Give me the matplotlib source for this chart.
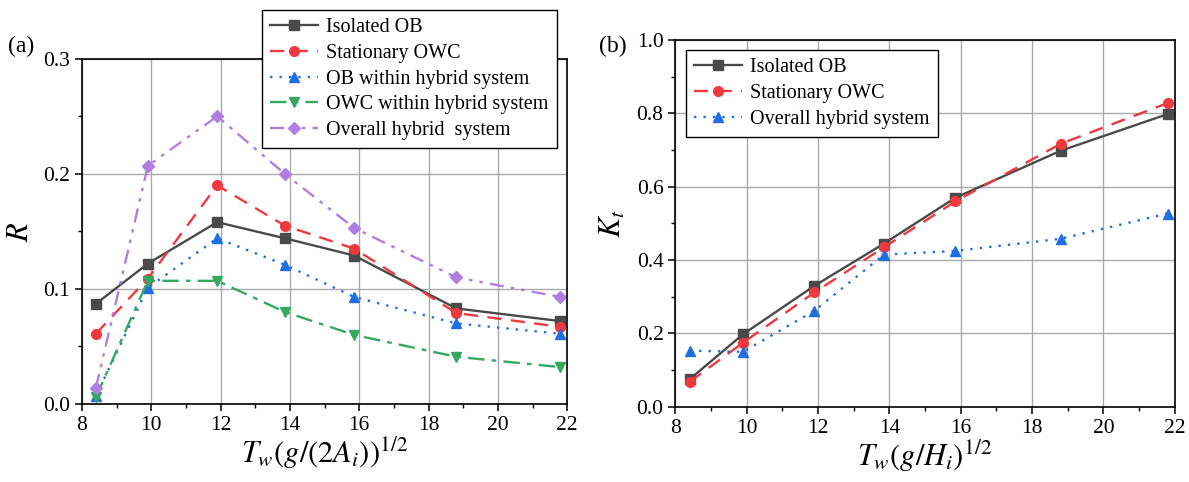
import matplotlib
matplotlib.use("Agg")
import matplotlib.pyplot as plt

plt.rcParams['font.family'] = ['Liberation Serif', 'DejaVu Serif']
plt.rcParams['mathtext.fontset'] = 'stix'

# data
x = [8.4, 9.9, 11.9, 13.85, 15.85, 18.8, 21.8]

# panel (a): reflection coefficient R
r_isolated_ob = [0.087, 0.122, 0.158, 0.144, 0.129, 0.083, 0.072]
r_stationary_owc = [0.061, 0.109, 0.190, 0.155, 0.135, 0.079, 0.067]
r_ob_hybrid = [0.007, 0.101, 0.144, 0.121, 0.093, 0.070, 0.061]
r_owc_hybrid = [0.006, 0.107, 0.107, 0.080, 0.060, 0.041, 0.032]
r_overall = [0.014, 0.207, 0.250, 0.200, 0.153, 0.110, 0.093]

# panel (b): transmission coefficient Kt
kt_isolated_ob = [0.075, 0.198, 0.330, 0.445, 0.570, 0.698, 0.798]
kt_stationary_owc = [0.068, 0.175, 0.312, 0.435, 0.560, 0.717, 0.828]
kt_overall = [0.153, 0.150, 0.262, 0.415, 0.425, 0.458, 0.527]

gray = '#4a4a4a'
red = '#f0393e'
blue = '#1f6fe0'
green = '#35a862'
purple = '#b07ee0'

lw = 1.7
ms = 7

fig = plt.figure(figsize=(11.89, 4.82), dpi=100)
ax1 = fig.add_axes([0.069, 0.162, 0.408, 0.716])
ax2 = fig.add_axes([0.568, 0.156, 0.420, 0.761])


def style_axis(ax):
    ax.set_xlim(8, 22)
    ax.set_xticks(range(8, 23, 2))
    ax.set_xticks(range(9, 22, 2), minor=True)
    ax.grid(True, which='major', color='#aaaaaa', lw=1.0)
    ax.set_axisbelow(True)
    ax.tick_params(which='major', direction='out', length=5, width=1.1, labelsize=15.5)
    ax.tick_params(which='minor', direction='out', length=3, width=1.0)
    for s in ax.spines.values():
        s.set_linewidth(1.2)


legend_kw = dict(fontsize=14.5, frameon=True, fancybox=False, edgecolor='black', framealpha=1,
                 handlelength=2.4, borderpad=0.4, labelspacing=0.33, handletextpad=0.4,
                 borderaxespad=0)

# panel (a)
ax1.plot(x, r_isolated_ob, color=gray, ls='-', lw=lw, marker='s', ms=ms, label='Isolated OB')
ax1.plot(x, r_stationary_owc, color=red, ls=(0, (6, 4)), lw=lw, marker='o', ms=ms, label='Stationary OWC')
ax1.plot(x, r_ob_hybrid, color=blue, ls=(0, (1, 3)), lw=lw, marker='^', ms=ms, label='OB within hybrid system')
ax1.plot(x, r_owc_hybrid, color=green, ls=(0, (7, 3, 2, 3)), lw=lw, marker='v', ms=ms, label='OWC within hybrid system')
ax1.plot(x, r_overall, color=purple, ls=(0, (6, 3, 1.5, 3, 1.5, 3)), lw=lw, marker='D', ms=ms - 1, label='Overall hybrid  system')
style_axis(ax1)
ax1.set_ylim(0, 0.3)
ax1.set_yticks([0.0, 0.1, 0.2, 0.3])
ax1.set_yticks([0.05, 0.15, 0.25], minor=True)
ax1.set_yticklabels(['0.0', '0.1', '0.2', '0.3'])
ax1.set_ylabel('$R$', fontsize=22, labelpad=6)
ax1.set_xlabel(r'$T_w(g/(2A_i))^{1/2}$', fontsize=22, labelpad=0)
leg1 = ax1.legend(loc='upper left', bbox_to_anchor=(0.2203, 0.9793), bbox_transform=fig.transFigure, **legend_kw)
leg1.get_frame().set_linewidth(1.0)
fig.text(0.007, 0.893, '(a)', fontsize=17)

# panel (b)
ax2.plot(x, kt_isolated_ob, color=gray, ls='-', lw=lw, marker='s', ms=ms, label='Isolated OB')
ax2.plot(x, kt_stationary_owc, color=red, ls=(0, (6, 4)), lw=lw, marker='o', ms=ms, label='Stationary OWC')
ax2.plot(x, kt_overall, color=blue, ls=(0, (1, 3)), lw=lw, marker='^', ms=ms, label='Overall hybrid system')
style_axis(ax2)
ax2.set_ylim(0, 1.0)
ax2.set_yticks([0.0, 0.2, 0.4, 0.6, 0.8, 1.0])
ax2.set_yticks([0.1, 0.3, 0.5, 0.7, 0.9], minor=True)
ax2.set_yticklabels(['0.0', '0.2', '0.4', '0.6', '0.8', '1.0'])
ax2.set_ylabel('$K_t$', fontsize=22, labelpad=6)
ax2.set_xlabel(r'$T_w(g/H_i)^{1/2}$', fontsize=22, labelpad=0)
leg2 = ax2.legend(loc='upper left', bbox_to_anchor=(0.577, 0.896), bbox_transform=fig.transFigure, **legend_kw)
leg2.get_frame().set_linewidth(1.0)
fig.text(0.504, 0.893, '(b)', fontsize=17)

fig.savefig('out.png', dpi=100)
